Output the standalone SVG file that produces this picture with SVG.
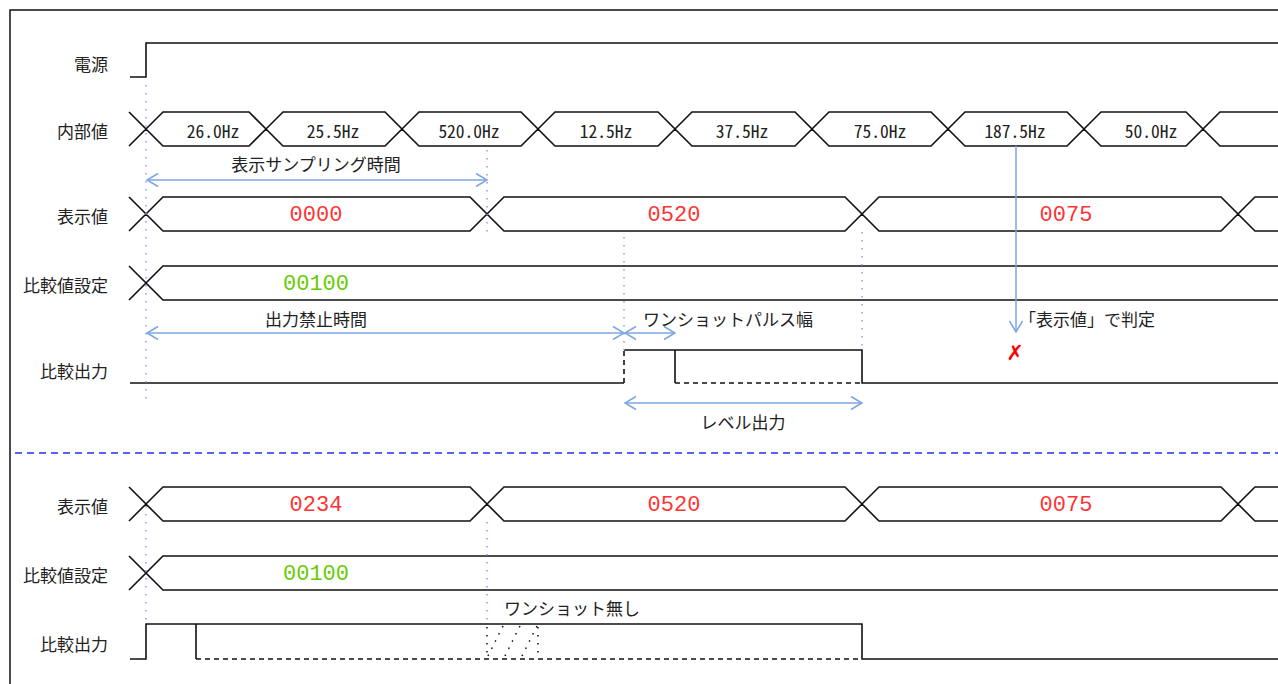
<svg xmlns="http://www.w3.org/2000/svg" width="1278" height="684" viewBox="0 0 1278 684">
<style>
.lbl{font-family:"Noto Sans CJK JP","Noto Sans",sans-serif;font-size:17px;fill:#222;text-anchor:end;dominant-baseline:central}
.ann{font-family:"Noto Sans CJK JP","Noto Sans",sans-serif;font-size:17px;fill:#222;text-anchor:middle;dominant-baseline:central}
.hz{font-family:"Noto Sans Mono CJK JP","Noto Sans CJK JP","DejaVu Sans Mono",monospace;font-size:17.5px;fill:#222;text-anchor:middle;dominant-baseline:central}
.seg{font-family:"Liberation Mono","DejaVu Sans Mono",monospace;font-size:22px;text-anchor:middle;dominant-baseline:central}
.red{fill:#ff3333}
.grn{fill:#66cc00}
.sig{fill:none;stroke:#111;stroke-width:1.6;stroke-linejoin:miter}
.dash{fill:none;stroke:#111;stroke-width:1.6;stroke-dasharray:5 4}
.hatch{fill:none;stroke:#111;stroke-width:1.5;stroke-dasharray:1.5 6.5}
.guide{fill:none;stroke:#7ea6e0;stroke-width:1.5;stroke-dasharray:1.5 6.5}
.arr{fill:none;stroke:#7ea6e0;stroke-width:1.5;marker-start:url(#ah);marker-end:url(#ah)}
.arr1{fill:none;stroke:#7ea6e0;stroke-width:1.5;marker-end:url(#ah)}
</style>
<defs>
<marker id="ah" viewBox="-12 -8 14 16" markerWidth="14" markerHeight="16" refX="0" refY="0" orient="auto-start-reverse" markerUnits="userSpaceOnUse">
<path d="M-11,-6.5 L0,0 L-11,6.5" fill="none" stroke="#7ea6e0" stroke-width="1.5"/>
</marker>
</defs>
<rect x="0" y="0" width="1278" height="684" fill="#fff"/>
<rect id="frame" x="10" y="10" width="1300" height="700" fill="none" stroke="#111" stroke-width="1.5"/>

<g id="dennen">
<text class="lbl" x="108" y="63">電源</text>
<path class="sig" d="M130,77 H146 V43 H1290"/>
</g>

<g id="naibuchi">
<text class="lbl" x="108" y="130">内部値</text>
<path class="sig" d="M129,112 L146,129 L129,146 M146,129 L163,112 L249,112 L266,129 L249,146 L163,146 Z M266,129 L283,112 L385,112 L402,129 L385,146 L283,146 Z M402,129 L419,112 L521,112 L538,129 L521,146 L419,146 Z M538,129 L555,112 L658,112 L675,129 L658,146 L555,146 Z M675,129 L692,112 L795,112 L812,129 L795,146 L692,146 Z M812,129 L829,112 L931,112 L948,129 L931,146 L829,146 Z M948,129 L965,112 L1067,112 L1084,129 L1067,146 L965,146 Z M1084,129 L1101,112 L1186,112 L1203,129 L1186,146 L1101,146 Z M1290,112 L1220,112 L1203,129 L1220,146 L1290,146"/>
<text class="hz" x="213" y="130">26.0Hz</text>
<text class="hz" x="333" y="130">25.5Hz</text>
<text class="hz" x="469" y="130">520.0Hz</text>
<text class="hz" x="606" y="130">12.5Hz</text>
<text class="hz" x="742" y="130">37.5Hz</text>
<text class="hz" x="880" y="130">75.0Hz</text>
<text class="hz" x="1015" y="130">187.5Hz</text>
<text class="hz" x="1151" y="130">50.0Hz</text>
</g>

<g id="hyoujichi1">
<text class="lbl" x="108" y="215">表示値</text>
<path class="sig" d="M129,197 L146,214 L129,231 M146,214 L163,197 L470,197 L487,214 L470,231 L163,231 Z M487,214 L504,197 L845,197 L862,214 L845,231 L504,231 Z M862,214 L879,197 L1221,197 L1238,214 L1221,231 L879,231 Z M1290,197 L1255,197 L1238,214 L1255,231 L1290,231"/>
<text class="seg red" x="316" y="215">0000</text>
<text class="seg red" x="674" y="215">0520</text>
<text class="seg red" x="1066" y="215">0075</text>
</g>

<g id="hikakuchi1">
<text class="lbl" x="108" y="284">比較値設定</text>
<path class="sig" d="M129,266 L146,283 L129,300 M1290,266 L163,266 L146,283 L163,300 L1290,300"/>
<text class="seg grn" x="316" y="284">00100</text>
</g>

<g id="hikakushutsuryoku1">
<text class="lbl" x="108" y="370">比較出力</text>
<path class="sig" d="M130,383 H624 M624,350 H862 V383 H1290 M675,350 V383"/>
<path class="dash" d="M624,383 V350 M675,383 H862"/>
</g>

<g id="separator">
<path d="M15,453 H1278" fill="none" stroke="#2233ee" stroke-width="1.5" stroke-dasharray="7 5"/>
</g>

<g id="hyoujichi2">
<text class="lbl" x="108" y="505">表示値</text>
<path class="sig" d="M129,487 L146,504 L129,521 M146,504 L163,487 L470,487 L487,504 L470,521 L163,521 Z M487,504 L504,487 L845,487 L862,504 L845,521 L504,521 Z M862,504 L879,487 L1221,487 L1238,504 L1221,521 L879,521 Z M1290,487 L1255,487 L1238,504 L1255,521 L1290,521"/>
<text class="seg red" x="316" y="505">0234</text>
<text class="seg red" x="674" y="505">0520</text>
<text class="seg red" x="1066" y="505">0075</text>
</g>

<g id="hikakuchi2">
<text class="lbl" x="108" y="574">比較値設定</text>
<path class="sig" d="M129,556 L146,573 L129,590 M1290,556 L163,556 L146,573 L163,590 L1290,590"/>
<text class="seg grn" x="316" y="574">00100</text>
</g>

<g id="hikakushutsuryoku2">
<text class="lbl" x="108" y="643">比較出力</text>
<path class="sig" d="M130,659 H146 V624 H862 V659 H1290 M196,624 V659"/>
<path class="dash" d="M196,659 H862"/>
<path class="hatch" d="M487,627 V659 M538,627 V659 M488,656 L504,624 M505,656 L521,624 M522,656 L538,624"/>
<text class="ann" x="572" y="607">ワンショット無し</text>
</g>

<g id="connectors">
<path class="guide" d="M146,85 V402"/>
<path class="guide" d="M487,150 V232"/>
<path class="guide" d="M624,237 V350"/>
<path class="guide" d="M862,232 V350"/>
<path class="guide" d="M146,506 V624"/>
<path class="guide" d="M487,522 V624"/>
<path class="arr" d="M147,180 H487"/>
<path class="arr" d="M147,333 H624"/>
<path class="arr" d="M625,333 H675"/>
<path class="arr" d="M625,403 H862"/>
<path class="arr1" d="M1016,146 V332"/>
</g>

<g id="annotations">
<text class="ann" x="316" y="163">表示サンプリング時間</text>
<text class="ann" x="316" y="318">出力禁止時間</text>
<text class="ann" x="728" y="318">ワンショットパルス幅</text>
<text class="ann" x="743" y="421">レベル出力</text>
<text class="ann" x="1087" y="318">「表示値」で判定</text>
<text x="1015" y="353" font-family="DejaVu Sans,sans-serif" font-size="21" fill="#ff0000" text-anchor="middle" dominant-baseline="central">✗</text>
</g>
</svg>
